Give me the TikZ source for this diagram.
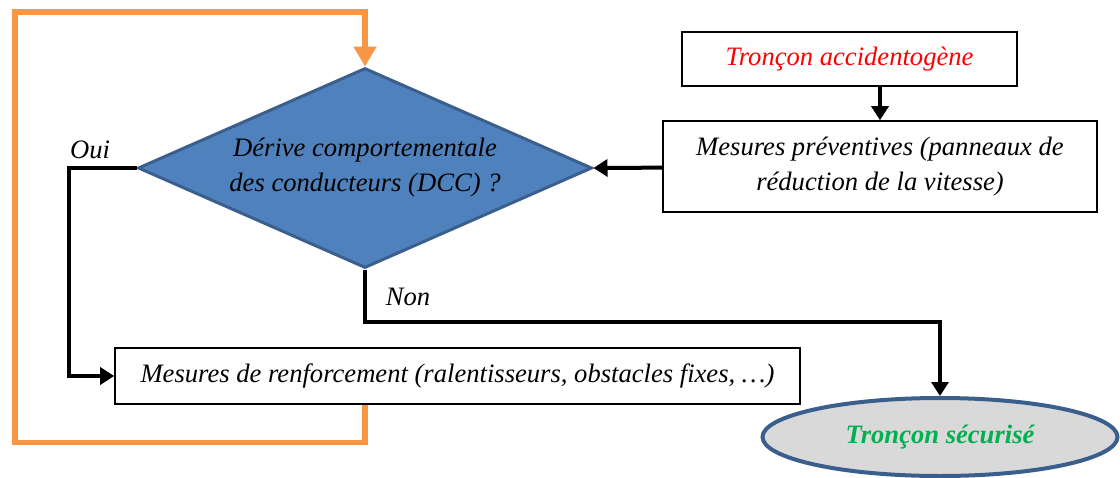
\documentclass[tikz,border=0pt]{standalone}
\usepackage{fontspec}
\setmainfont{Liberation Serif}
\usetikzlibrary{shapes.geometric, arrows.meta}

\definecolor{orangeboucle}{HTML}{F79646}
\definecolor{bleudcc}{HTML}{4F81BD}
\definecolor{bordbleu}{HTML}{3A5F8C}
\definecolor{grisfin}{HTML}{D9D9D9}
\definecolor{vertfin}{HTML}{00B050}

\begin{document}
\begin{tikzpicture}[x=0.5pt, y=-0.5pt,
  every node/.style={font=\fontsize{13.3}{17.5}\selectfont\itshape},
  boite/.style={draw=black, line width=0.8pt, fill=white, align=center, inner sep=0pt},
  fleche/.style={draw=black, line width=2pt, -{Triangle[length=7pt, width=8.5pt]}},
  boucle/.style={draw=orangeboucle, line width=2.6pt, -{Triangle[length=10pt, width=11pt]}}]
\useasboundingbox (0,0) rectangle (1120,477);

\node[boite, minimum width=167.5pt, minimum height=27pt, text=red] (tronc) at (849.5,59) {Tronçon accidentogène};
\node[boite, minimum width=217pt, minimum height=45.5pt] (prev) at (880,166.5) {Mesures préventives (panneaux de\\réduction de la vitesse)};
\node[diamond, draw=bordbleu, line width=1.5pt, fill=bleudcc, aspect=2.27, inner sep=0pt,
  minimum width=227pt, minimum height=100pt, align=center] (dcc) at (365,168) {Dérive comportementale\\des conducteurs (DCC) ?};
\node[boite, minimum width=342.5pt, minimum height=28pt] (renf) at (457.5,376) {Mesures de renforcement (ralentisseurs, obstacles fixes, …)};
\node[ellipse, draw=bordbleu, line width=2pt, fill=grisfin, inner sep=0pt,
  minimum width=177.5pt, minimum height=39pt, text=vertfin, font=\fontsize{13.3}{16}\selectfont\bfseries\itshape] (secu) at (940,437) {Tronçon sécurisé};

\node (oui) at (90,150) {Oui};
\node (non) at (408,297) {Non};
\coordinate (coin) at (15,12);

\draw[fleche] (tronc.south -| prev.north) -- (prev.north);
\draw[fleche] (prev) -- (dcc.east);
\draw[fleche] (dcc.west) -- ++(-68,0) |- (renf.west);
\draw[fleche] (dcc.south) -- ++(0,52) -| (secu.north);
\draw[boucle] (renf.south -| dcc.north) -- ++(0,38) -| (coin) -| (dcc.north);
\end{tikzpicture}
\end{document}
